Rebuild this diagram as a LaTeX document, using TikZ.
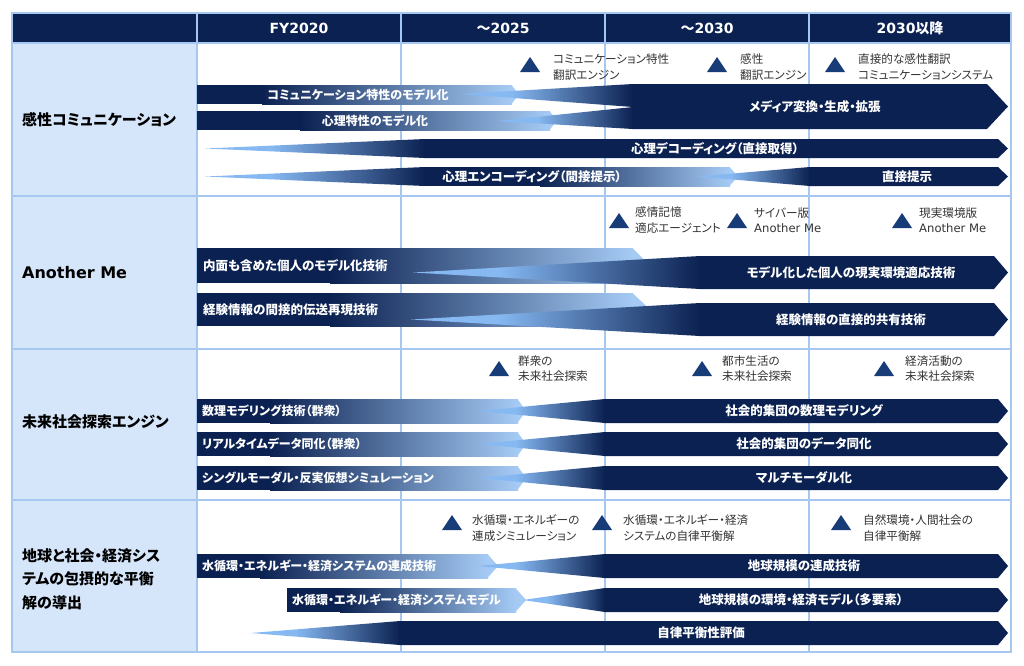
\documentclass[tikz,border=0pt]{standalone}
\usepackage{fontspec}
\setmainfont{Noto Sans CJK JP}[RawFeature=+palt]
\newfontfamily\rmlat{DejaVu Sans}
\definecolor{navy}{HTML}{0B2151}
\definecolor{lightb}{HTML}{A5CBF5}
\definecolor{lightw}{HTML}{86B8F2}
\definecolor{gridc}{HTML}{A6C8F0}
\definecolor{labfill}{HTML}{D6E6FA}
\definecolor{tric}{HTML}{173C78}
\definecolor{mstext}{HTML}{333333}
\pgfdeclarehorizontalshading{wedgesh}{100bp}{color(0bp)=(lightw); color(25bp)=(lightw); color(40bp)=(lightw); color(75bp)=(navy); color(100bp)=(navy)}
\pgfdeclarehorizontalshading{barsh}{100bp}{color(0bp)=(navy); color(25bp)=(navy); color(75bp)=(lightb); color(100bp)=(lightb)}
% #1 x0, #2 dark end, #3 body end, #4 tip x, #5 ytop, #6 ybot
\newcommand{\rmLbar}[6]{%
  \fill[navy] (#1,#5) rectangle (#2+0.6,#6);
  \shade[shading=barsh] (#2,#5) rectangle (#3,#6);
  \fill[lightb] (#3-0.6,#5) -- (#4,{(#5+#6)/2}) -- (#3-0.6,#6) -- cycle;
}
% #1 wedge tip x, #2 full x, #3 ytop, #4 ybot, #5 tip depth
\newcommand{\rmWarr}[5]{%
  \shade[shading=wedgesh] (#1,{(#3+#4)/2}) -- (#2,#3) -- (#2,#4) -- cycle;
  \fill[navy] (#2-0.6,#3) -- (1008-#5,#3) -- (1008,{(#3+#4)/2}) -- (1008-#5,#4) -- (#2-0.6,#4) -- cycle;
}
\newcommand{\rmTri}[2]{%
  \fill[tric] (#1-10,#2+7.5) -- (#1+10,#2+7.5) -- (#1,#2-7.5) -- cycle;
}
\begin{document}
\begin{tikzpicture}[x=1pt,y=-1pt,
  bartxt/.style={font=\bfseries\fontsize{12.5}{13}\selectfont,text=white,inner sep=0pt},
  bartxts/.style={font=\bfseries\fontsize{12}{13}\selectfont,text=white,inner sep=0pt},
  mstxt/.style={font=\fontsize{11.6}{15.5}\selectfont,text=mstext,align=left,anchor=west,inner sep=0pt},
  rowlab/.style={font=\bfseries\fontsize{15}{23.5}\selectfont,anchor=west,align=left,inner sep=0pt},
  hdr/.style={font=\bfseries\fontsize{14}{14}\selectfont,text=white,inner sep=0pt},
  gline/.style={draw=gridc,line width=1.3pt}
]
\useasboundingbox[fill=white] (0,0) rectangle (1024,665);
% table background
\fill[labfill] (12,43) rectangle (197,652);
\fill[navy] (12,13) rectangle (1011,43);
\foreach \x in {197,401,605,809} \draw[gline] (\x,13) -- (\x,652);
\foreach \y in {43,196,349,500} \draw[gline] (12,\y) -- (1011,\y);
\draw[gline] (12,13) rectangle (1011,652);
% header
\node[hdr] (h1) at (299,28) {\rmlat FY2020};
\node[hdr] (h2) at (503,28) {～{\rmlat 2025}};
\node[hdr] (h3) at (707,28) {～{\rmlat 2030}};
\node[hdr] (h4) at (910,28) {{\rmlat 2030}以降};
% row labels
\node[rowlab] (r1) at (22,120) {感性コミュニケーション};
\node[rowlab,font=\rmlat\bfseries\fontsize{16}{20}\selectfont] (r2) at (22,273) {Another Me};
\node[rowlab] (r3) at (22,422) {未来社会探索エンジン};
\node[rowlab] (r4) at (22,579) {地球と社会・経済シス\\テムの包摂的な平衡\\解の導出};

% ---- row 1
\rmLbar{197}{262}{512}{519}{85}{104}
\rmLbar{197}{300}{550}{557}{111}{130}
\shade[shading=wedgesh] (460,94) -- (633,84) -- (633,107) -- cycle;
\shade[shading=wedgesh] (497,121) -- (633,107) -- (633,129) -- cycle;
\fill[navy] (632.4,84) -- (987,84) -- (1008,106.5) -- (987,129) -- (632.4,129) -- cycle;
\node[bartxts] (a1) at (358,94.5) {コミュニケーション特性のモデル化};
\node[bartxts] (a2) at (375,120.5) {心理特性のモデル化};
\node[bartxt] (a3) at (815,106.5) {メディア変換・生成・拡張};
\rmWarr{205}{425}{139}{158}{10}
\node[bartxt] (a4) at (715,148.5) {心理デコーディング（直接取得）};
\shade[shading=wedgesh] (205,176.5) -- (425,167) -- (425,186) -- cycle;
\rmLbar{424.4}{540}{730}{738}{167}{186}
\node[bartxt] (a5) at (532,177) {心理エンコーディング（間接提示）};
\rmWarr{697}{810}{167}{186}{10}
\node[bartxt] (a6) at (907,177) {直接提示};
\rmTri{530}{64.5}
\rmTri{717}{64.5}
\rmTri{835}{64.5}
\node[mstxt] (m1) at (553,67) {コミュニケーション特性\\翻訳エンジン};
\node[mstxt] (m2) at (740,67) {感性\\翻訳エンジン};
\node[mstxt] (m3) at (858,67) {直接的な感性翻訳\\コミュニケーションシステム};

% ---- row 2
\rmLbar{197}{330}{633}{650}{248}{283}
\rmWarr{413}{700}{256}{289}{14}
\rmLbar{197}{330}{633}{650}{293}{326}
\rmWarr{411}{700}{303}{336}{14}
\node[bartxt,anchor=west] (b1) at (203,266) {内面も含めた個人のモデル化技術};
\node[bartxt] (b2) at (851,273) {モデル化した個人の現実環境適応技術};
\node[bartxt,anchor=west] (b3) at (203,310) {経験情報の間接的伝送再現技術};
\node[bartxt] (b4) at (851,320) {経験情報の直接的共有技術};
\rmTri{619}{220.5}
\rmTri{737}{220.5}
\rmTri{902}{220.5}
\node[mstxt] (m4) at (635,220) {感情記憶\\適応エージェント};
\node[mstxt] (m5) at (754,220) {サイバー版\\{\rmlat Another Me}};
\node[mstxt] (m6) at (919,220) {現実環境版\\{\rmlat Another Me}};

% ---- row 3
\rmLbar{197}{270}{518}{526}{399}{423}
\rmWarr{478}{605}{399}{423}{10}
\rmLbar{197}{270}{518}{526}{432}{456}
\rmWarr{478}{605}{432}{456}{10}
\rmLbar{197}{270}{518}{526}{466}{490}
\rmWarr{478}{605}{466}{490}{10}
\node[bartxts,anchor=west] (c1) at (202,411) {数理モデリング技術（群衆）};
\node[bartxts,anchor=west] (c2) at (202,444) {リアルタイムデータ同化（群衆）};
\node[bartxts,anchor=west] (c3) at (202,478) {シングルモーダル・反実仮想シミュレーション};
\node[bartxt] (c4) at (804,411) {社会的集団の数理モデリング};
\node[bartxt] (c5) at (804,444) {社会的集団のデータ同化};
\node[bartxt] (c6) at (804,478) {マルチモーダル化};
\rmTri{499}{368.5}
\rmTri{702}{368.5}
\rmTri{884}{368.5}
\node[mstxt] (m7) at (518,368.5) {群衆の\\未来社会探索};
\node[mstxt] (m8) at (722,368.5) {都市生活の\\未来社会探索};
\node[mstxt] (m9) at (905,368.5) {経済活動の\\未来社会探索};

% ---- row 4
\rmLbar{197}{260}{488}{498}{554}{578}
\rmWarr{478}{605}{554}{578}{10}
\rmLbar{287}{340}{516}{526}{588}{612}
\rmWarr{523}{605}{588}{612}{10}
\rmWarr{251}{400}{621}{645}{10}
\node[bartxts,anchor=west] (d1) at (202,566) {水循環・エネルギー・経済システムの連成技術};
\node[bartxt] (d2) at (804,566) {地球規模の連成技術};
\node[bartxts,anchor=west] (d3) at (292,600) {水循環・エネルギー・経済システムモデル};
\node[bartxt] (d4) at (801,600) {地球規模の環境・経済モデル（多要素）};
\node[bartxt] (d5) at (701,633) {自律平衡性評価};
\rmTri{452}{522.5}
\rmTri{602}{522.5}
\rmTri{841}{522.5}
\node[mstxt] (m10) at (472,528) {水循環・エネルギーの\\連成シミュレーション};
\node[mstxt] (m11) at (623,528) {水循環・エネルギー・経済\\システムの自律平衡解};
\node[mstxt] (m12) at (863,528) {自然環境・人間社会の\\自律平衡解};
\end{tikzpicture}
\end{document}
